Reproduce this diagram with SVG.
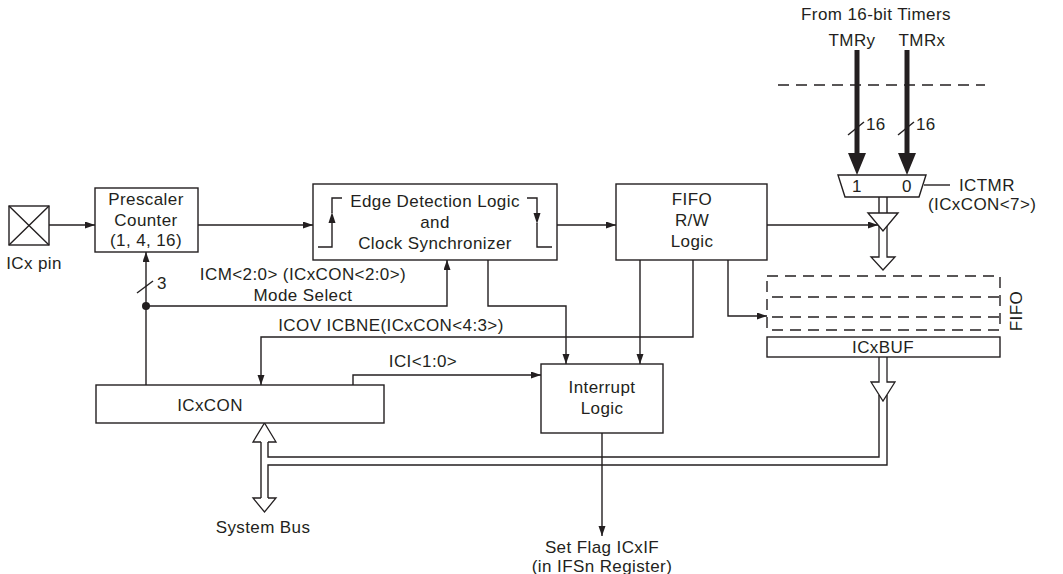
<svg xmlns="http://www.w3.org/2000/svg" width="1063" height="574" viewBox="0 0 1063 574">
<defs>
<marker id="ah" markerUnits="userSpaceOnUse" markerWidth="11" markerHeight="8" refX="10" refY="3.5" orient="auto">
<path d="M0,0 L10,3.5 L0,7 z" fill="#231f20"/>
</marker>
<style>
text{font-family:"Liberation Sans",Arial,sans-serif;font-size:17px;letter-spacing:0.4px;fill:#231f20}
.m{text-anchor:middle}
.b{fill:#fff;stroke:#231f20;stroke-width:1.4}
.c{fill:none;stroke:#231f20;stroke-width:1.4}
.a{fill:none;stroke:#231f20;stroke-width:1.4;marker-end:url(#ah)}
.h{fill:#fff;stroke:#231f20;stroke-width:1.3}
.d{fill:none;stroke:#231f20;stroke-width:1.4;stroke-dasharray:11 7}
.f{fill:#231f20}
</style>
</defs>
<rect width="1063" height="574" fill="#fff"/>

<g id="connectors">
<path class="a" d="M49,225 H95"/>
<path class="a" d="M198,225 H313"/>
<path class="a" d="M557,225 H616"/>
<path class="a" d="M767,225 H878"/>
<path class="a" d="M488,260 V306 H566 V364"/>
<path class="a" d="M640,260 V364"/>
<path class="a" d="M693,260 V337 H261 V385"/>
<path class="a" d="M728,260 V316 H767"/>
<path class="a" d="M146,385 V252"/>
<path class="a" d="M146,306 H447 V260"/>
<circle class="f" cx="146" cy="306" r="4"/>
<path class="a" d="M353,385 V375 H541"/>
<path class="a" d="M602,433 V536"/>
<path class="c" d="M924,185 H950"/>
<path class="c" d="M137,293 L153,281"/>
<path class="c" d="M848,135 L864,122"/>
<path class="c" d="M898,135 L914,122"/>
<path class="d" d="M778,85 H985"/>
<path d="M857,50 V155" stroke="#231f20" stroke-width="5"/>
<polygon class="f" points="848,153 866,153 857,175"/>
<path d="M907,50 V155" stroke="#231f20" stroke-width="5"/>
<polygon class="f" points="898,153 916,153 907,175"/>
<path class="c" d="M879,197 V213 M887,197 V213"/>
<path class="h" d="M879,226 V257 H871 L883,270 L895,257 H887 V226"/>
<path class="h" d="M879,357 V382 H871 L883,401 L895,382 H887 V357"/>
<path class="c" d="M879,395 V457 H268 V442"/>
<path class="c" d="M887,395 V465 H268 V498"/>
<path class="c" d="M261,442 V498"/>
<path class="h" d="M261,442 H253 L264.5,423 L276,442 H268"/>
<path class="h" d="M261,498 H253 L264.5,512 L276,498 H268"/>
</g>

<g id="icx-pin">
<rect class="b" x="9" y="206" width="40" height="39"/>
<path class="c" d="M9,206 L49,245 M49,206 L9,245"/>
<text class="m" x="34" y="269">ICx pin</text>
</g>

<g id="prescaler">
<rect class="b" x="95" y="188" width="103" height="64"/>
<text class="m" x="146" y="205">Prescaler</text>
<text class="m" x="146" y="226">Counter</text>
<text class="m" x="146" y="246">(1, 4, 16)</text>
</g>

<g id="edge-detect">
<rect class="b" x="313" y="184" width="244" height="76"/>
<path class="c" d="M318,247 H332 V221 M332,213 V198 H342"/>
<polygon class="f" points="332,212 328.5,223 335.5,223"/>
<path class="c" d="M527,198 H537 V213 M537,223 V247 H552"/>
<polygon class="f" points="537,224 533.5,213 540.5,213"/>
<text class="m" x="435" y="207">Edge Detection Logic</text>
<text class="m" x="435" y="228">and</text>
<text class="m" x="435" y="249">Clock Synchronizer</text>
</g>

<g id="fifo-rw">
<rect class="b" x="616" y="184" width="151" height="76"/>
<text class="m" x="692" y="205">FIFO</text>
<text class="m" x="692" y="226">R/W</text>
<text class="m" x="692" y="247">Logic</text>
</g>

<g id="mux">
<polygon class="b" points="838,175 926,175 919,197 845,197"/>
<text class="m" x="857" y="192">1</text>
<text class="m" x="907" y="192">0</text>
</g>

<g id="buffer">
<polygon class="b" points="868,213 898,213 883,231"/>
</g>

<g id="fifo">
<rect class="d" x="767" y="276" width="233" height="54"/>
<path class="d" d="M772,297 H1000 M772,317 H1000"/>
<text class="m" x="1022" y="311" transform="rotate(-90 1022 311)">FIFO</text>
</g>

<g id="icxbuf">
<rect class="b" x="767" y="337" width="233" height="20"/>
<text class="m" x="883" y="353">ICxBUF</text>
</g>

<g id="icxcon">
<rect class="b" x="96" y="385" width="288" height="38"/>
<text class="m" x="210" y="411">ICxCON</text>
</g>

<g id="interrupt">
<rect class="b" x="541" y="364" width="122" height="69"/>
<text class="m" x="602" y="393">Interrupt</text>
<text class="m" x="602" y="414">Logic</text>
</g>

<g id="labels">
<text class="m" x="876" y="20">From 16-bit Timers</text>
<text class="m" x="852" y="46">TMRy</text>
<text class="m" x="922" y="46">TMRx</text>
<text x="866" y="130">16</text>
<text x="916" y="130">16</text>
<text x="959" y="191">ICTMR</text>
<text x="928" y="210">(ICxCON&lt;7&gt;)</text>
<text x="157" y="289">3</text>
<text class="m" x="303" y="280">ICM&lt;2:0&gt; (ICxCON&lt;2:0&gt;)</text>
<text class="m" x="303" y="301">Mode Select</text>
<text class="m" x="391" y="331">ICOV ICBNE(ICxCON&lt;4:3&gt;)</text>
<text class="m" x="423" y="367">ICI&lt;1:0&gt;</text>
<text class="m" x="263" y="533">System Bus</text>
<text class="m" x="602" y="553">Set Flag ICxIF</text>
<text class="m" x="602" y="572">(in IFSn Register)</text>
</g>
</svg>
